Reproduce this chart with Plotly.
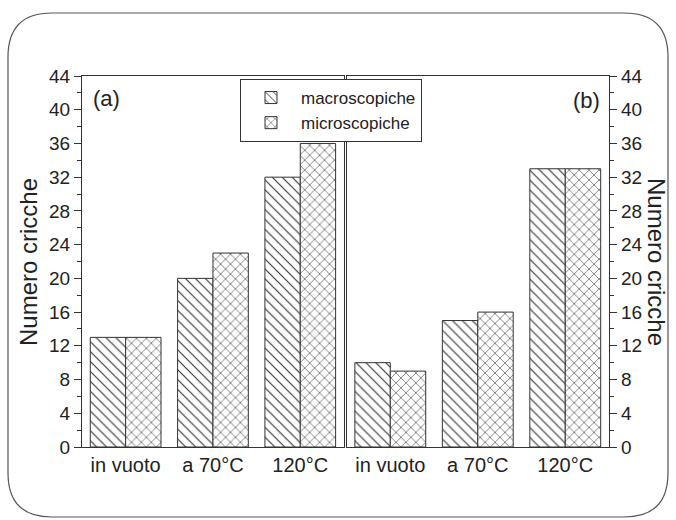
import plotly.graph_objects as go

categories = ["in vuoto", "a 70°C", "120°C"]
macro_a = [13, 20, 32]
micro_a = [13, 23, 36]
macro_b = [10, 15, 33]
micro_b = [9, 16, 33]
series_names = ["macroscopiche", "microscopiche"]
y_ticks = list(range(0, 45, 4))

INK = "#333333"
FONT = "Liberation Sans, Arial, sans-serif"

def pat(shape):
    return dict(shape=shape, size=7, solidity=0.16, fgcolor="#333333", bgcolor="white", fillmode="replace")

fig = go.Figure()
fig.add_trace(go.Bar(x=categories, y=macro_a, name=series_names[0], xaxis="x", yaxis="y",
                     marker=dict(color="white", pattern=pat("\\"), line=dict(color=INK, width=1))))
fig.add_trace(go.Bar(x=categories, y=micro_a, name=series_names[1], xaxis="x", yaxis="y",
                     marker=dict(color="white", pattern=pat("x"), line=dict(color=INK, width=1))))
fig.add_trace(go.Bar(x=categories, y=macro_b, name=series_names[0], xaxis="x2", yaxis="y2", showlegend=False,
                     marker=dict(color="white", pattern=pat("\\"), line=dict(color=INK, width=1))))
fig.add_trace(go.Bar(x=categories, y=micro_b, name=series_names[1], xaxis="x2", yaxis="y2", showlegend=False,
                     marker=dict(color="white", pattern=pat("x"), line=dict(color=INK, width=1))))

L, R, T, B = 82, 67, 76, 73
W, H = 676, 520
pw, ph = W - L - R, H - T - B

def px(x):
    return (x - L) / pw

def py(y):
    return (H - B - y) / ph

xcommon = dict(showline=True, linecolor=INK, linewidth=1.3, mirror=True, ticks="",
               tickfont=dict(size=20, color="#222", family=FONT), showgrid=False, zeroline=False)
ycommon = dict(range=[0, 44], tickvals=y_ticks, showline=True, linecolor=INK, linewidth=1.3, mirror=True,
               ticks="outside", ticklen=7, tickwidth=1.2, tickcolor=INK,
               minor=dict(dtick=2, ticks="outside", ticklen=4, tickwidth=1, tickcolor=INK),
               tickfont=dict(size=19, color="#222", family=FONT), showgrid=False, zeroline=False)

fig.update_layout(
    width=W, height=H,
    margin=dict(l=L, r=R, t=T, b=B),
    paper_bgcolor="white", plot_bgcolor="white",
    barmode="group", bargap=0.19, bargroupgap=0,
    font=dict(family=FONT, color="#222"),
    xaxis=dict(domain=[0, 0.497], anchor="y", **xcommon),
    xaxis2=dict(domain=[0.502, 1], anchor="y2", **xcommon),
    yaxis=dict(anchor="x", side="left", **ycommon),
    yaxis2=dict(anchor="x2", side="right", **ycommon),
    legend=dict(x=px(240), y=py(79), xanchor="left", yanchor="top", bgcolor="white",
                bordercolor=INK, borderwidth=1, font=dict(size=17, family=FONT, color="#222"),
                itemwidth=50, tracegroupgap=0),
    showlegend=True,
)

# rounded frame around the picture
x0, x1, y0, y1 = px(8), px(668), py(517), py(13)
rx, ry = 44 / pw, 44 / ph
path = (f"M {x0+rx},{y1} L {x1-rx},{y1} Q {x1},{y1} {x1},{y1-ry} "
        f"L {x1},{y0+ry} Q {x1},{y0} {x1-rx},{y0} L {x0+rx},{y0} Q {x0},{y0} {x0},{y0+ry} "
        f"L {x0},{y1-ry} Q {x0},{y1} {x0+rx},{y1} Z")
fig.add_shape(type="path", path=path, xref="paper", yref="paper",
              line=dict(color="#555", width=1.2), fillcolor="rgba(0,0,0,0)", layer="below")

ann = dict(xref="paper", yref="paper", showarrow=False, xanchor="center", yanchor="middle")
fig.add_annotation(text="Numero cricche", x=px(28), y=py(262), textangle=-90,
                   font=dict(size=24, family=FONT, color="#222"), **ann)
fig.add_annotation(text="Numero cricche", x=px(657), y=py(262), textangle=90,
                   font=dict(size=24, family=FONT, color="#222"), **ann)
fig.add_annotation(text="(a)", x=px(106), y=py(98), font=dict(size=22, family=FONT, color="#222"), **ann)
fig.add_annotation(text="(b)", x=px(586), y=py(101), font=dict(size=22, family=FONT, color="#222"), **ann)

fig.write_html("out.html")
